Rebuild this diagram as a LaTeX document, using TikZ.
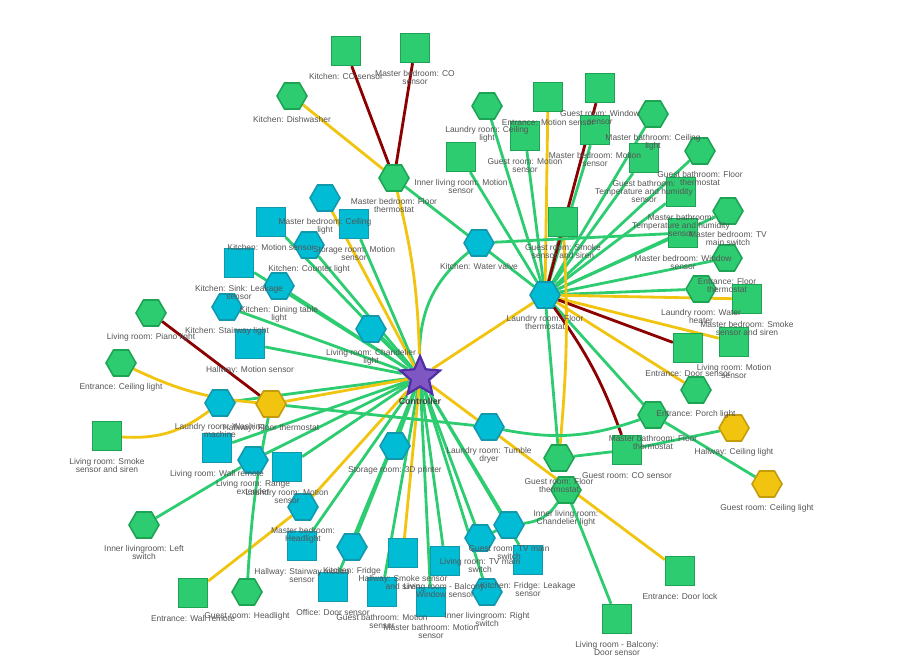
\documentclass[tikz,border=0pt]{standalone}
\usepackage{fontspec}
\setmainfont{Liberation Sans}
\usetikzlibrary{shapes.geometric,positioning}
\definecolor{nodegreen}{RGB}{46,204,113}
\definecolor{nodegreenline}{RGB}{28,163,84}
\definecolor{nodecyan}{RGB}{0,188,212}
\definecolor{nodecyanline}{RGB}{18,152,172}
\definecolor{nodeyellow}{RGB}{241,196,15}
\definecolor{nodeyellowline}{RGB}{196,155,10}
\definecolor{starfill}{RGB}{126,87,194}
\definecolor{starline}{RGB}{81,45,168}
\definecolor{linkgood}{RGB}{46,204,113}
\definecolor{linkfair}{RGB}{241,196,15}
\definecolor{linkbad}{RGB}{139,0,0}
\definecolor{labelgray}{RGB}{85,85,85}
\pgfdeclarelayer{background}
\pgfdeclarelayer{foreground}
\pgfsetlayers{background,main,foreground}

\begin{document}
\begin{tikzpicture}[
  x=0.025cm, y=-0.025cm,
  lbl/.style={font=\fontsize{6}{5.7}\selectfont, text=labelgray, align=center, inner sep=0pt},
  hexnode/.style={regular polygon, regular polygon sides=6, minimum size=0.75cm, inner sep=0pt, line width=1.1pt},
  sqnode/.style={rectangle, minimum size=0.72cm, inner sep=0pt, line width=1.1pt},
  green/.style={fill=nodegreen, draw=nodegreenline},
  cyan/.style={fill=nodecyan, draw=nodecyanline},
  yellow/.style={fill=nodeyellow, draw=nodeyellowline},
  ctrlstar/.style={star, star points=5, star point ratio=2.2, minimum size=1.05cm, inner sep=0pt,
    fill=starfill, draw=starline, line width=1.6pt},
  goodlink/.style={draw=linkgood, line width=2pt},
  fairlink/.style={draw=linkfair, line width=2pt},
  badlink/.style={draw=linkbad, line width=2pt}
]
\useasboundingbox (0,0) rectangle (915,669);

% controller
\node[ctrlstar] (ctrl) at (420,377) {};

% top
\node[sqnode, green] (co_k) at (346,51) {};
\node[sqnode, green] (co_mb) at (415,48) {};
\node[hexnode, green] (dish) at (292,96) {};
\node[hexnode, green] (ft_mb) at (394,178) {};
\node[sqnode, green] (mot_il) at (461,157) {};
\node[hexnode, green] (cl_lr) at (487,106) {};
\node[sqnode, green] (mot_en) at (548,97) {};
\node[sqnode, green] (win_gr) at (600,88) {};
\node[sqnode, green] (mot_gr) at (525,136) {};
\node[sqnode, green] (mot_mb) at (595,130) {};
\node[hexnode, green] (cl_mbath) at (653,114) {};
\node[sqnode, green] (th_gbath) at (644,158) {};
\node[hexnode, green] (ft_gbath) at (700,151) {};
\node[sqnode, green] (th_mbath) at (681,192) {};
\node[hexnode, green] (tv_mb) at (728,211) {};
\node[sqnode, green] (smk_gr) at (563,222) {};
\node[hexnode, cyan] (valve) at (479,243) {};
\node[sqnode, green] (win_mb) at (683,233) {};
\node[hexnode, green] (ft_en) at (727,258) {};

% right
\node[hexnode, cyan] (ft_lr) at (545,295) {};
\node[hexnode, green] (heat_lr) at (701,289) {};
\node[sqnode, green] (smk_mb) at (747,299) {};
\node[sqnode, green] (door_en) at (688,348) {};
\node[sqnode, green] (mot_liv) at (734,342) {};
\node[hexnode, green] (porch) at (696,390) {};
\node[hexnode, green] (ft_mbath) at (653,415) {};
\node[hexnode, yellow] (cl_hw) at (734,428) {};
\node[sqnode, green] (co_gr) at (627,450) {};
\node[hexnode, yellow] (cl_gr) at (767,484) {};
\node[sqnode, green] (lock_en) at (680,571) {};
\node[sqnode, green] (door_bal) at (617,619) {};
\node[hexnode, green] (ft_gr) at (559,458) {};
\node[hexnode, green] (chand_il) at (566,490) {};

% bottom
\node[hexnode, cyan] (dryer) at (489,427) {};
\node[hexnode, cyan] (tv_gr) at (509,525) {};
\node[hexnode, cyan] (tv_liv) at (480,538) {};
\node[sqnode, cyan] (leak_fr) at (528,560) {};
\node[hexnode, cyan] (sw_right) at (487,592) {};
\node[sqnode, cyan] (win_bal) at (445,561) {};
\node[sqnode, cyan] (mot_mbath) at (431,602) {};
\node[sqnode, cyan] (smk_hw) at (403,553) {};
\node[sqnode, cyan] (mot_gbath) at (382,592) {};
\node[hexnode, cyan] (fridge) at (352,547) {};
\node[sqnode, cyan] (door_off) at (333,587) {};
\node[hexnode, cyan] (printer) at (395,446) {};
\node[hexnode, cyan] (head_mb) at (303,507) {};
\node[sqnode, cyan] (mot_stair) at (302,546) {};
\node[sqnode, cyan] (mot_lr) at (287,467) {};
\node[hexnode, cyan] (range) at (253,460) {};
\node[sqnode, cyan] (remote_liv) at (217,448) {};
\node[hexnode, cyan] (wash) at (220,403) {};
\node[hexnode, yellow] (ft_hw) at (271,404) {};
\node[sqnode, green] (smk_liv) at (107,436) {};
\node[hexnode, green] (sw_left) at (144,525) {};
\node[sqnode, green] (remote_en) at (193,593) {};
\node[hexnode, green] (head_gr) at (247,592) {};

% left
\node[hexnode, green] (cl_en) at (121,363) {};
\node[hexnode, green] (piano) at (151,313) {};
\node[sqnode, cyan] (mot_hw) at (250,344) {};
\node[hexnode, cyan] (stair_k) at (227,307) {};
\node[sqnode, cyan] (leak_sink) at (239,263) {};
\node[hexnode, cyan] (dining) at (279,286) {};
\node[hexnode, cyan] (counter) at (309,245) {};
\node[sqnode, cyan] (mot_k) at (271,222) {};
\node[hexnode, cyan] (cl_mb) at (325,198) {};
\node[sqnode, cyan] (mot_st) at (354,224) {};
\node[hexnode, cyan] (chand_liv) at (371,329) {};

\begin{pgfonlayer}{background}
% links from the controller
\foreach \n in {mot_k, counter, mot_st, leak_sink, dining, stair_k, mot_hw, chand_liv, wash, remote_liv,
  range, mot_lr, mot_stair, fridge, door_off, mot_gbath, win_bal, mot_mbath, tv_liv, sw_right, tv_gr, leak_fr, printer}
  \draw[goodlink] (ctrl) -- (\n);
\foreach \n in {cl_mb, ft_lr, lock_en, smk_hw, head_mb, ft_hw}
  \draw[fairlink] (ctrl) -- (\n);
\draw[goodlink] (ctrl) to[bend left=25] (valve);
\draw[fairlink] (ft_mb) to[bend left=6] (ctrl);

% links from the laundry room thermostat
\foreach \n in {ft_mb, mot_il, cl_lr, mot_gr, mot_mb, cl_mbath, th_gbath, ft_gbath, th_mbath, tv_mb,
  win_mb, ft_en, heat_lr, smk_gr, ft_mbath, ft_gr}
  \draw[goodlink] (ft_lr) -- (\n);
\foreach \n in {mot_en, smk_mb, mot_liv, porch}
  \draw[fairlink] (ft_lr) -- (\n);
\foreach \n in {win_gr, door_en}
  \draw[badlink] (ft_lr) -- (\n);
\draw[badlink] (ft_lr) to[bend left=8] (co_gr);

% other links
\draw[badlink] (co_k) -- (ft_mb);
\draw[badlink] (co_mb) -- (ft_mb);
\draw[badlink] (piano) -- (ft_hw);
\draw[fairlink] (dish) -- (ft_mb);
\draw[fairlink] (head_mb) -- (remote_en);
\draw[fairlink] (cl_en) to[bend right=10] (ft_hw);
\draw[fairlink] (smk_liv) to[bend right=20] (wash);
\draw[fairlink] (smk_gr) to[bend left=4] (ft_gr);
\draw[goodlink] (valve) -- (win_mb);
\draw[goodlink] (ft_gr) -- (co_gr);
\draw[goodlink] (co_gr) -- (cl_hw);
\draw[goodlink] (ft_mbath) -- (cl_gr);
\draw[goodlink] (chand_il) -- (door_bal);
\draw[goodlink] (tv_gr) -- (tv_liv);
\draw[goodlink] (range) -- (sw_left);
\draw[goodlink] (ft_hw) -- (dryer);
\draw[goodlink] (ft_hw) to[bend right=4] (head_gr);
\draw[goodlink] (dryer) to[bend right=15] (ft_mbath);
\draw[goodlink] (tv_gr) to[bend right=25] (chand_il);
\end{pgfonlayer}

% labels, above everything
\begin{pgfonlayer}{foreground}
\node[lbl, font=\fontsize{6.3}{7}\selectfont\bfseries, text=black!75, below=2.4mm of ctrl] (ctrl-lbl) {Controller};
\foreach \n/\t in {
  co_k/{Kitchen: CO sensor}, co_mb/{Master bedroom: CO\\sensor}, dish/{Kitchen: Dishwasher},
  ft_mb/{Master bedroom: Floor\\thermostat}, mot_il/{Inner living room: Motion\\sensor},
  cl_lr/{Laundry room: Ceiling\\light}, mot_en/{Entrance: Motion sensor}, win_gr/{Guest room: Window\\sensor},
  mot_gr/{Guest room: Motion\\sensor}, mot_mb/{Master bedroom: Motion\\sensor},
  cl_mbath/{Master bathroom: Ceiling\\light}, th_gbath/{Guest bathroom:\\Temperature and humidity\\sensor},
  ft_gbath/{Guest bathroom: Floor\\thermostat}, th_mbath/{Master bathroom:\\Temperature and humidity\\sensor},
  tv_mb/{Master bedroom: TV\\main switch}, smk_gr/{Guest room: Smoke\\sensor and siren},
  valve/{Kitchen: Water valve}, win_mb/{Master bedroom: Window\\sensor}, ft_en/{Entrance: Floor\\thermostat},
  ft_lr/{Laundry room: Floor\\thermostat}, heat_lr/{Laundry room: Water\\heater},
  smk_mb/{Master bedroom: Smoke\\sensor and siren}, door_en/{Entrance: Door sensor},
  mot_liv/{Living room: Motion\\sensor}, porch/{Entrance: Porch light},
  ft_mbath/{Master bathroom: Floor\\thermostat}, cl_hw/{Hallway: Ceiling light},
  co_gr/{Guest room: CO sensor}, cl_gr/{Guest room: Ceiling light}, lock_en/{Entrance: Door lock},
  door_bal/{Living room - Balcony:\\Door sensor}, ft_gr/{Guest room: Floor\\thermostat},
  chand_il/{Inner living room:\\Chandelier light}, dryer/{Laundry room: Tumble\\dryer},
  tv_gr/{Guest room: TV main\\switch}, tv_liv/{Living room: TV main\\switch},
  leak_fr/{Kitchen: Fridge: Leakage\\sensor}, sw_right/{Inner livingroom: Right\\switch},
  win_bal/{Living room - Balcony:\\Window sensor}, mot_mbath/{Master bathroom: Motion\\sensor},
  smk_hw/{Hallway: Smoke sensor\\and siren}, mot_gbath/{Guest bathroom: Motion\\sensor},
  fridge/{Kitchen: Fridge}, door_off/{Office: Door sensor}, printer/{Storage room: 3D printer},
  head_mb/{Master bedroom:\\Headlight}, mot_stair/{Hallway: Stairway motion\\sensor},
  mot_lr/{Laundry room: Motion\\sensor}, range/{Living room: Range\\extender},
  remote_liv/{Living room: Wall remote}, wash/{Laundry room: Washing\\machine},
  ft_hw/{Hallway: Floor thermostat}, smk_liv/{Living room: Smoke\\sensor and siren},
  sw_left/{Inner livingroom: Left\\switch}, remote_en/{Entrance: Wall remote},
  head_gr/{Guest room: Headlight}, cl_en/{Entrance: Ceiling light}, piano/{Living room: Piano light},
  mot_hw/{Hallway: Motion sensor}, stair_k/{Kitchen: Stairway light},
  leak_sink/{Kitchen: Sink: Leakage\\sensor}, dining/{Kitchen: Dining table\\light},
  counter/{Kitchen: Counter light}, mot_k/{Kitchen: Motion sensor},
  cl_mb/{Master bedroom: Ceiling\\light}, mot_st/{Storage room: Motion\\sensor},
  chand_liv/{Living room: Chandelier\\light}}
  \node[lbl, below=1.7mm of \n] (\n-lbl) {\t};
\end{pgfonlayer}

\end{tikzpicture}
\end{document}
